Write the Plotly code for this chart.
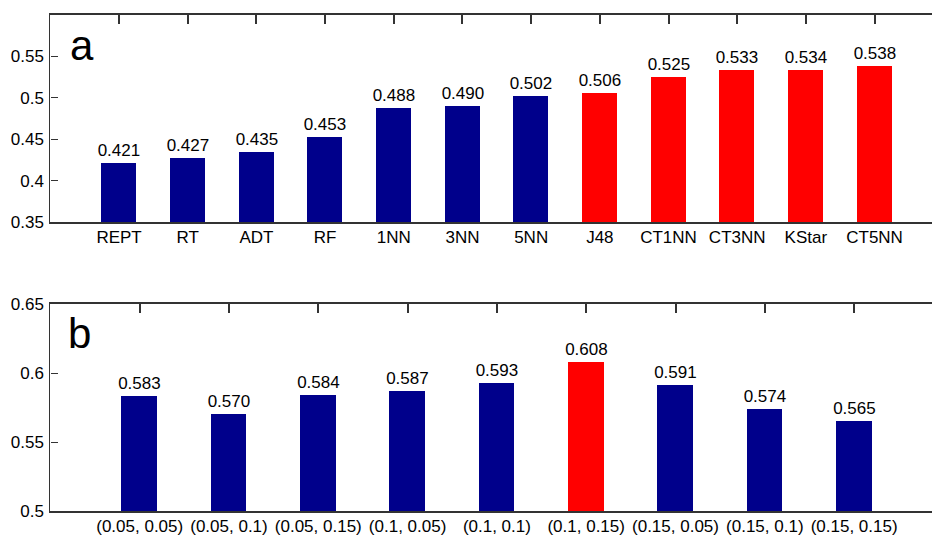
import plotly.graph_objects as go

# ---- data ----
cats_a = ["REPT", "RT", "ADT", "RF", "1NN", "3NN", "5NN", "J48", "CT1NN", "CT3NN", "KStar", "CT5NN"]
vals_a = [0.421, 0.427, 0.435, 0.453, 0.488, 0.490, 0.502, 0.506, 0.525, 0.533, 0.534, 0.538]
hl_a = [False] * 7 + [True] * 5

cats_b = ["(0.05, 0.05)", "(0.05, 0.1)", "(0.05, 0.15)", "(0.1, 0.05)", "(0.1, 0.1)",
          "(0.1, 0.15)", "(0.15, 0.05)", "(0.15, 0.1)", "(0.15, 0.15)"]
vals_b = [0.583, 0.570, 0.584, 0.587, 0.593, 0.608, 0.591, 0.574, 0.565]
hl_b = [False] * 5 + [True] + [False] * 3

yticks_a = [0.35, 0.40, 0.45, 0.50, 0.55]
yticks_b = [0.50, 0.55, 0.60, 0.65]

NAVY = "#00008B"
RED = "#FF0000"
FONT = "Liberation Sans, Arial, sans-serif"
W, H = 932, 536

def fmt(v):
    return f"{v:.2f}".rstrip("0")

xa = list(range(1, len(cats_a) + 1))
xb = list(range(1, len(cats_b) + 1))

fig = go.Figure()
fig.add_trace(go.Bar(
    x=xa, y=vals_a, width=0.51, xaxis="x", yaxis="y",
    marker=dict(color=[RED if h else NAVY for h in hl_a], line=dict(width=0)),
    text=[f"{v:.3f}" for v in vals_a], textposition="outside", constraintext="none",
    textfont=dict(size=17, color="#000", family=FONT), cliponaxis=False,
    showlegend=False, hoverinfo="skip",
))
fig.add_trace(go.Bar(
    x=xb, y=vals_b, width=0.40, xaxis="x2", yaxis="y2",
    marker=dict(color=[RED if h else NAVY for h in hl_b], line=dict(width=0)),
    text=[f"{v:.3f}" for v in vals_b], textposition="outside", constraintext="none",
    textfont=dict(size=17, color="#000", family=FONT), cliponaxis=False,
    showlegend=False, hoverinfo="skip",
))
# invisible anchors for the top tick axes
fig.add_trace(go.Scatter(x=[xa[0]], y=[vals_a[0]], xaxis="x3", yaxis="y", mode="markers",
                         marker=dict(opacity=0), showlegend=False, hoverinfo="skip"))
fig.add_trace(go.Scatter(x=[xb[0]], y=[vals_b[0]], xaxis="x4", yaxis="y2", mode="markers",
                         marker=dict(opacity=0), showlegend=False, hoverinfo="skip"))

x0 = 50.4 / W
ya_dom = [1 - 222 / H, 1 - 15 / H]
yb_dom = [1 - 511 / H, 1 - 304 / H]
ra = [0, (W - 50.4) / 68.68]
rb = [0, (W - 50.4) / 89.3]

tickfont = dict(size=17, color="#000", family=FONT)
xcommon = dict(showline=True, linecolor="#333", linewidth=1.5, showgrid=False, zeroline=False,
               ticks="", mirror=True, tickfont=tickfont, ticklabelstandoff=-1, automargin=False)
topticks = dict(side="top", showticklabels=False, ticks="inside", ticklen=9, tickcolor="#333",
                tickwidth=1.6, showline=False, showgrid=False, zeroline=False, automargin=False)
ycommon = dict(showline=True, linecolor="#333", linewidth=1.3, showgrid=False, zeroline=False,
               ticks="inside", ticklen=7, tickcolor="#333", tickwidth=1.3, mirror=False,
               tickfont=tickfont, ticklabelstandoff=2, automargin=False)

fig.update_layout(
    width=W, height=H,
    margin=dict(l=0, r=0, t=0, b=0, autoexpand=False),
    paper_bgcolor="white", plot_bgcolor="white",
    font=dict(family=FONT, size=17, color="#000"),
    bargap=0,
    xaxis=dict(domain=[x0, 1], anchor="y", range=ra, tickvals=xa, ticktext=cats_a, **xcommon),
    xaxis3=dict(overlaying="x", anchor="y", range=ra, tickvals=xa, **topticks),
    yaxis=dict(domain=ya_dom, anchor="x", range=[0.35, 0.6], tickvals=yticks_a,
               ticktext=[fmt(v) for v in yticks_a], **ycommon),
    xaxis2=dict(domain=[x0, 1], anchor="y2", range=rb, tickvals=xb, ticktext=cats_b, **xcommon),
    xaxis4=dict(overlaying="x2", anchor="y2", range=rb, tickvals=xb, **topticks),
    yaxis2=dict(domain=yb_dom, anchor="x2", range=[0.5, 0.65], tickvals=yticks_b,
                ticktext=[fmt(v) for v in yticks_b], **ycommon),
    annotations=[
        dict(text="a", xref="paper", yref="paper", x=68 / W, y=1 - 20 / H,
             xanchor="left", yanchor="top", showarrow=False,
             font=dict(size=42, color="#000", family=FONT)),
        dict(text="b", xref="paper", yref="paper", x=66 / W, y=1 - 308 / H,
             xanchor="left", yanchor="top", showarrow=False,
             font=dict(size=42, color="#000", family=FONT)),
    ],
)

fig.write_html("out.html")
